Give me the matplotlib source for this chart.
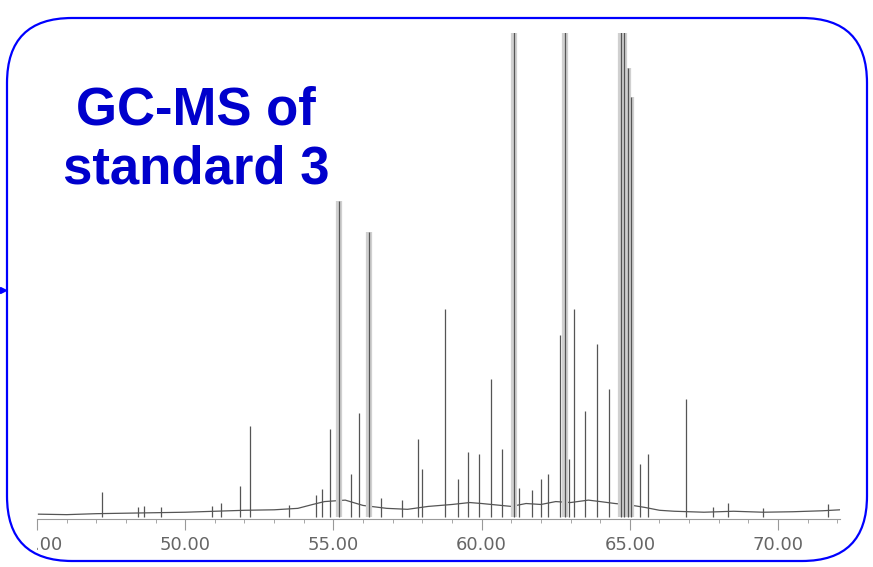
import numpy as np
import matplotlib
matplotlib.use("Agg")
import matplotlib.pyplot as plt
from matplotlib.patches import FancyBboxPatch
from matplotlib.transforms import Bbox

# retention time (min) and peak apex intensity (% of plot height, >100 is off scale)
peak_rt = [47.2, 48.4, 48.6, 49.2, 50.9, 51.2, 51.85, 52.2, 53.5, 54.4, 54.6, 54.9, 55.18,
           55.6, 55.86, 56.2, 56.6, 57.3, 57.85, 58.0, 58.75, 59.2, 59.55, 59.9, 60.3,
           60.7, 61.1, 61.25, 61.7, 62.0, 62.25, 62.65, 62.8, 62.95, 63.1, 63.5, 63.9,
           64.3, 64.7, 64.8, 64.95, 65.05, 65.35, 65.6, 66.9, 67.8, 68.3, 69.5, 71.7]
peak_h = [5.2, 2.0, 2.3, 2.0, 2.2, 2.9, 6.4, 18.8, 2.5, 4.5, 5.8, 18.1, 65.2,
          8.9, 21.6, 58.8, 4.0, 3.5, 16.1, 9.9, 42.9, 7.8, 13.4, 13.0, 28.5,
          14.0, 150, 6.0, 5.5, 7.8, 8.9, 37.7, 150, 12.0, 42.9, 21.9, 35.7,
          26.4, 150, 150, 92.8, 86.8, 10.9, 13.0, 24.3, 2.0, 2.9, 1.8, 2.7]

# baseline drift under the peaks
base_rt = [45.05, 46.0, 47.0, 48.0, 49.0, 50.0, 51.0, 52.0, 53.0, 53.8, 54.3, 54.7, 55.4,
           56.0, 56.8, 57.5, 58.2, 59.0, 59.6, 60.0, 60.5, 61.0, 61.5, 62.0, 62.5,
           63.0, 63.6, 64.0, 64.5, 65.0, 65.5, 66.0, 66.5, 67.5, 68.5, 69.5, 70.5,
           71.5, 72.09]
base_lv = [0.6, 0.5, 0.7, 0.8, 0.9, 1.0, 1.2, 1.4, 1.5, 1.8, 2.6, 3.2, 3.5,
           2.4, 1.8, 1.6, 2.2, 2.6, 3.0, 2.8, 2.5, 2.2, 2.8, 2.6, 3.2,
           3.0, 3.5, 3.2, 2.8, 2.5, 2.0, 1.4, 1.2, 1.0, 1.2, 1.0, 1.1,
           1.3, 1.5]

tick_vals = [45, 50, 55, 60, 65, 70]
tick_labels = ["45.00", "50.00", "55.00", "60.00", "65.00", "70.00"]

W, H = 873, 567
fig = plt.figure(figsize=(W / 100, H / 100), dpi=100)

ax = fig.add_axes([37 / W, 1 - 519 / H, (840 - 37) / W, (519 - 33) / H])
ax.set_xlim(45.05, 72.09)
ax.set_ylim(-0.4, 100)

ax.plot(base_rt, base_lv, color="#555555", lw=0.9)
tall = [i for i, h in enumerate(peak_h) if h > 50]
ax.vlines([peak_rt[i] for i in tall], 0, [peak_h[i] for i in tall],
          color="#d0d0d0", lw=4.5)
ax.vlines(peak_rt, 0, peak_h, color="#555555", lw=0.9)

for s in ["top", "left", "right"]:
    ax.spines[s].set_visible(False)
ax.spines["bottom"].set_color("#999999")
ax.spines["bottom"].set_linewidth(0.8)
ax.set_yticks([])
ax.set_xticks(tick_vals)
ax.set_xticks(np.arange(46, 73, 1), minor=True)
ax.set_xticklabels(tick_labels, fontsize=13, color="#666666")
ax.tick_params(axis="x", which="major", length=8, color="#999999", pad=4)
ax.tick_params(axis="x", which="minor", length=3, color="#999999")

# left edge of the scanned strip cuts the first label
clip = Bbox.from_extents(37, 0, W, H)
for lab in ax.get_xticklabels():
    lab.set_clip_box(clip)
    lab.set_clip_on(True)

# rounded frame and title on an overlay in pixel units
ov = fig.add_axes([0, 0, 1, 1])
ov.set_xlim(0, W)
ov.set_ylim(H, 0)
ov.axis("off")
box = FancyBboxPatch((7, 18), 860, 543, boxstyle="round,pad=0,rounding_size=65",
                     fill=False, ec="#0000ff", lw=1.6)
ov.add_patch(box)
ov.plot([3], [290], marker=">", color="#0000ff", ms=5)
ov.text(196, 140, "GC-MS of\nstandard 3", ha="center", va="center",
        fontsize=38, fontweight="bold", color="#0000cc",
        family=["Liberation Sans", "DejaVu Sans"], linespacing=1.22)

fig.savefig("out.png", dpi=100)
